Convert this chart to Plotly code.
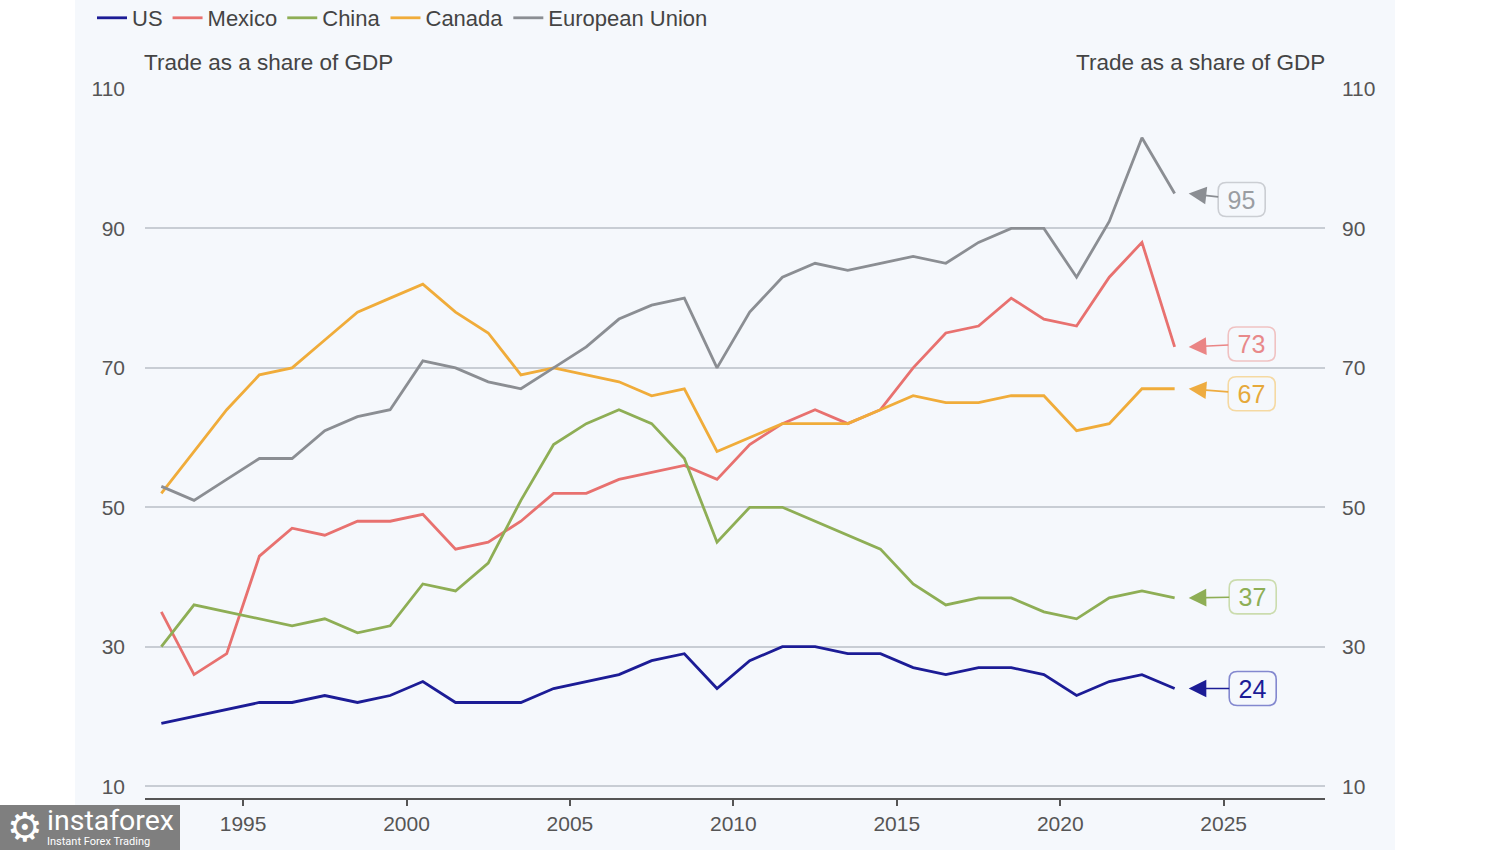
import plotly.graph_objects as go

years = list(range(1992, 2024))
us = [19, 20, 21, 22, 22, 23, 22, 23, 25, 22, 22, 22, 24, 25, 26, 28, 29, 24, 28, 30, 30, 29, 29, 27, 26, 27, 27, 26, 23, 25, 26, 24]
mexico = [35, 26, 29, 43, 47, 46, 48, 48, 49, 44, 45, 48, 52, 52, 54, 55, 56, 54, 59, 62, 64, 62, 64, 70, 75, 76, 80, 77, 76, 83, 88, 73]
china = [30, 36, 35, 34, 33, 34, 32, 33, 39, 38, 42, 51, 59, 62, 64, 62, 57, 45, 50, 50, 48, 46, 44, 39, 36, 37, 37, 35, 34, 37, 38, 37]
canada = [52, 58, 64, 69, 70, 74, 78, 80, 82, 78, 75, 69, 70, 69, 68, 66, 67, 58, 60, 62, 62, 62, 64, 66, 65, 65, 66, 66, 61, 62, 67, 67]
eu = [53, 51, 54, 57, 57, 61, 63, 64, 71, 70, 68, 67, 70, 73, 77, 79, 80, 70, 78, 83, 85, 84, 85, 86, 85, 88, 90, 90, 83, 91, 103, 95]

series_names = ["US", "Mexico", "China", "Canada", "European Union"]
series_values = [us, mexico, china, canada, eu]
colors = ["#1c1c96", "#e8716f", "#8eae55", "#f0ac3a", "#8b8e93"]
label_border = ["#8388cf", "#f0c2c2", "#cbdcae", "#f5d9a2", "#cbced3"]
label_text = ["#1c1c96", "#e8898a", "#8eae55", "#e6a93a", "#9a9da2"]
arrow_colors = ["#1c1c96", "#ea8585", "#8eae55", "#eeac40", "#8b8e93"]
y_ticks = [10, 30, 50, 70, 90, 110]
x_ticks = [1995, 2000, 2005, 2010, 2015, 2020, 2025]

xpos = [y + 0.5 for y in years]

fig = go.Figure()
for name, vals, c in zip(series_names, series_values, colors):
    fig.add_trace(go.Scatter(x=xpos, y=vals, name=name, mode="lines",
                             line=dict(color=c, width=2.8)))
fig.add_trace(go.Scatter(x=[xpos[0]], y=[us[0]], yaxis="y2", showlegend=False,
                         mode="markers", marker=dict(opacity=0), hoverinfo="skip"))

font_family = "Liberation Sans, Arial, sans-serif"
tick_font = dict(family=font_family, size=21, color="#555555")

W, H = 1500, 850
fig.update_layout(
    width=W, height=H,
    paper_bgcolor="white",
    plot_bgcolor="#f5f8fc",
    margin=dict(l=145, r=175, t=89, b=52),
    showlegend=True,
    legend=dict(orientation="h", xref="container", yref="container",
                x=92 / W, y=1 - 18 / H, xanchor="left", yanchor="middle",
                font=dict(family=font_family, size=22, color="#444444"),
                bgcolor="rgba(0,0,0,0)", itemwidth=30, tracegroupgap=0),
    xaxis=dict(range=[1992, 2028.1], tickvals=x_ticks, ticktext=[str(t) for t in x_ticks],
               showgrid=False, zeroline=False, showline=True, linecolor="#555555", linewidth=2,
               ticks="outside", ticklen=6, tickwidth=1.5, tickcolor="#555555",
               tickfont=tick_font),
    yaxis=dict(range=[8.3, 110], tickvals=y_ticks, showgrid=True, gridcolor="#c8cdd4",
               gridwidth=1.5, zeroline=False, showline=False, ticks="",
               tickfont=tick_font, ticklabelstandoff=19),
    yaxis2=dict(range=[8.3, 110], tickvals=y_ticks, overlaying="y", side="right",
                showgrid=False, zeroline=False, showline=False, ticks="",
                tickfont=tick_font, ticklabelstandoff=16),
)

# panel background
fig.add_shape(type="rect", xref="paper", yref="paper",
              x0=(75 - 145) / 1180, x1=(1395 - 145) / 1180,
              y0=-60 / 709, y1=810 / 709,
              fillcolor="#f5f8fc", line=dict(width=0), layer="below")

# axis titles
title_font = dict(family=font_family, size=22.5, color="#444444")
fig.add_annotation(xref="paper", yref="paper", x=-3 / 1180, y=1 + 27 / 709, xanchor="left",
                   yanchor="middle", text="Trade as a share of GDP", showarrow=False, font=title_font)
fig.add_annotation(xref="paper", yref="paper", x=1 + 2 / 1180, y=1 + 27 / 709, xanchor="right",
                   yanchor="middle", text="Trade as a share of GDP", showarrow=False, font=title_font)

# end labels with rounded boxes
offsets = [(64, 0), (63, -3), (64, -1), (63, 5), (53, 6)]
bw, bh, r = 47, 34, 8
tip_x = 2023.93
for vals, ac, bc, tc, (ax, ay) in zip(series_values, arrow_colors, label_border, label_text, offsets):
    cx, cy = ax, -ay
    x0, x1 = cx - bw / 2, cx + bw / 2
    y0, y1 = cy - bh / 2, cy + bh / 2
    path = (f"M{x0 + r},{y0} L{x1 - r},{y0} Q{x1},{y0} {x1},{y0 + r} "
            f"L{x1},{y1 - r} Q{x1},{y1} {x1 - r},{y1} L{x0 + r},{y1} "
            f"Q{x0},{y1} {x0},{y1 - r} L{x0},{y0 + r} Q{x0},{y0} {x0 + r},{y0} Z")
    fig.add_shape(type="path", xref="x", yref="y", xsizemode="pixel", ysizemode="pixel",
                  xanchor=tip_x, yanchor=vals[-1], path=path,
                  line=dict(color=bc, width=1.6), fillcolor="#f5f8fc", layer="above")
    fig.add_annotation(x=tip_x, y=vals[-1], xref="x", yref="y",
                       text=str(vals[-1]), showarrow=True, ax=ax, ay=ay,
                       width=bw - 4, height=bh - 4, borderpad=2, borderwidth=0,
                       arrowhead=2, arrowsize=2.2, arrowwidth=1.6, arrowcolor=ac,
                       font=dict(family=font_family, size=25, color=tc), standoff=0)

# watermark logo
fig.add_shape(type="rect", xref="paper", yref="paper",
              x0=-150 / 1180, x1=(180 - 145) / 1180,
              y0=-60 / 709, y1=-7 / 709,
              fillcolor="#7f7f7f", line=dict(width=0), layer="above")
fig.add_annotation(xref="paper", yref="paper", x=(25 - 145) / 1180, y=(798 - 827) / 709,
                   xanchor="center", yanchor="middle", text="⚙", showarrow=False,
                   font=dict(family="DejaVu Sans", size=40, color="white"))
fig.add_annotation(xref="paper", yref="paper", x=(45 - 145) / 1180, y=(798 - 820) / 709,
                   xanchor="left", yanchor="middle", text="instaforex", showarrow=False,
                   font=dict(family="Roboto, sans-serif", size=28.5, color="white"))
fig.add_annotation(xref="paper", yref="paper", x=(45 - 145) / 1180, y=(798 - 842) / 709,
                   xanchor="left", yanchor="middle", text="Instant Forex Trading", showarrow=False,
                   font=dict(family="Roboto, sans-serif", size=11, color="white"))

fig.write_html("out.html", config={"displayModeBar": False},
               post_script="document.body.style.margin='0';")
